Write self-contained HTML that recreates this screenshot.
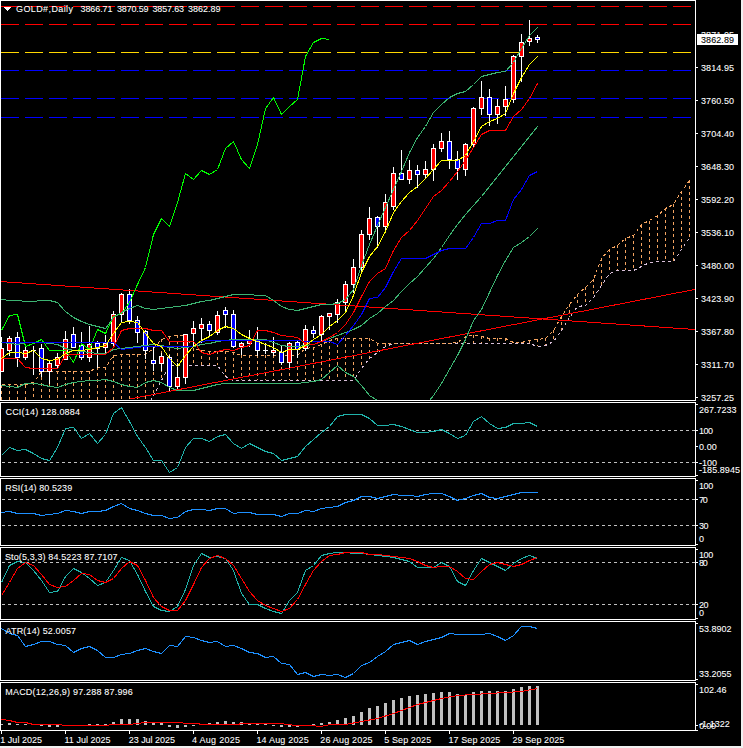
<!DOCTYPE html>
<html><head><meta charset="utf-8"><style>html,body{margin:0;padding:0;background:#000;width:743px;height:748px;overflow:hidden}</style></head><body><svg width="743" height="748" viewBox="0 0 743 748" shape-rendering="crispEdges" style='display:block;font-family:"Liberation Sans", sans-serif'>
<defs>
<clipPath id="p0"><rect x="1" y="1" width="694" height="399"/></clipPath>
<clipPath id="p1"><rect x="1" y="403" width="694" height="73"/></clipPath>
<clipPath id="p2"><rect x="1" y="479" width="694" height="66"/></clipPath>
<clipPath id="p3"><rect x="1" y="548" width="694" height="71"/></clipPath>
<clipPath id="p4"><rect x="1" y="622" width="694" height="58"/></clipPath>
<clipPath id="p5"><rect x="1" y="683" width="694" height="47"/></clipPath>
</defs>
<rect x="0" y="0" width="743" height="748" fill="#000"/>
<rect x="741" y="0" width="2" height="748" fill="#f0f0f0"/>
<rect x="0" y="746" width="743" height="2" fill="#f0f0f0"/>
<g clip-path="url(#p0)">
<line x1="1.5" y1="384.5" x2="1.5" y2="430" stroke="#F4A460" stroke-dasharray="3 3"/>
<line x1="9.5" y1="384.5" x2="9.5" y2="430" stroke="#F4A460" stroke-dasharray="3 3"/>
<line x1="17.5" y1="384.5" x2="17.5" y2="430" stroke="#F4A460" stroke-dasharray="3 3"/>
<line x1="25.5" y1="384.5" x2="25.5" y2="430" stroke="#F4A460" stroke-dasharray="3 3"/>
<line x1="33.5" y1="381.5" x2="33.5" y2="430" stroke="#F4A460" stroke-dasharray="3 3"/>
<line x1="41.5" y1="371.4" x2="41.5" y2="430" stroke="#F4A460" stroke-dasharray="3 3"/>
<line x1="49.5" y1="371.4" x2="49.5" y2="430" stroke="#F4A460" stroke-dasharray="3 3"/>
<line x1="57.5" y1="371.4" x2="57.5" y2="430" stroke="#F4A460" stroke-dasharray="3 3"/>
<line x1="65.5" y1="371.4" x2="65.5" y2="430" stroke="#F4A460" stroke-dasharray="3 3"/>
<line x1="73.5" y1="371.4" x2="73.5" y2="430" stroke="#F4A460" stroke-dasharray="3 3"/>
<line x1="81.5" y1="371.4" x2="81.5" y2="430" stroke="#F4A460" stroke-dasharray="3 3"/>
<line x1="89.5" y1="371.4" x2="89.5" y2="430" stroke="#F4A460" stroke-dasharray="3 3"/>
<line x1="97.5" y1="367" x2="97.5" y2="430" stroke="#F4A460" stroke-dasharray="3 3"/>
<line x1="105.5" y1="367" x2="105.5" y2="430" stroke="#F4A460" stroke-dasharray="3 3"/>
<line x1="113.5" y1="355" x2="113.5" y2="430" stroke="#F4A460" stroke-dasharray="3 3"/>
<line x1="121.5" y1="354" x2="121.5" y2="430" stroke="#F4A460" stroke-dasharray="3 3"/>
<line x1="129.5" y1="354" x2="129.5" y2="430" stroke="#F4A460" stroke-dasharray="3 3"/>
<line x1="137.5" y1="354" x2="137.5" y2="430" stroke="#F4A460" stroke-dasharray="3 3"/>
<line x1="145.5" y1="354" x2="145.5" y2="410" stroke="#F4A460" stroke-dasharray="3 3"/>
<line x1="153.5" y1="348" x2="153.5" y2="395" stroke="#F4A460" stroke-dasharray="3 3"/>
<line x1="161.5" y1="339" x2="161.5" y2="380" stroke="#F4A460" stroke-dasharray="3 3"/>
<line x1="169.5" y1="336" x2="169.5" y2="365" stroke="#F4A460" stroke-dasharray="3 3"/>
<line x1="177.5" y1="335" x2="177.5" y2="365" stroke="#F4A460" stroke-dasharray="3 3"/>
<line x1="185.5" y1="335" x2="185.5" y2="365" stroke="#F4A460" stroke-dasharray="3 3"/>
<line x1="193.5" y1="348" x2="193.5" y2="365" stroke="#F4A460" stroke-dasharray="3 3"/>
<line x1="201.5" y1="350" x2="201.5" y2="365" stroke="#F4A460" stroke-dasharray="3 3"/>
<line x1="209.5" y1="351" x2="209.5" y2="365" stroke="#F4A460" stroke-dasharray="3 3"/>
<line x1="217.5" y1="351" x2="217.5" y2="365" stroke="#F4A460" stroke-dasharray="3 3"/>
<line x1="225.5" y1="351" x2="225.5" y2="376" stroke="#F4A460" stroke-dasharray="3 3"/>
<line x1="233.5" y1="352" x2="233.5" y2="380" stroke="#F4A460" stroke-dasharray="3 3"/>
<line x1="241.5" y1="355" x2="241.5" y2="380" stroke="#F4A460" stroke-dasharray="3 3"/>
<line x1="249.5" y1="355" x2="249.5" y2="380" stroke="#F4A460" stroke-dasharray="3 3"/>
<line x1="257.5" y1="355" x2="257.5" y2="380" stroke="#F4A460" stroke-dasharray="3 3"/>
<line x1="265.5" y1="355" x2="265.5" y2="380" stroke="#F4A460" stroke-dasharray="3 3"/>
<line x1="273.5" y1="355" x2="273.5" y2="380" stroke="#F4A460" stroke-dasharray="3 3"/>
<line x1="281.5" y1="355" x2="281.5" y2="380" stroke="#F4A460" stroke-dasharray="3 3"/>
<line x1="289.5" y1="355" x2="289.5" y2="380" stroke="#F4A460" stroke-dasharray="3 3"/>
<line x1="297.5" y1="355" x2="297.5" y2="380" stroke="#F4A460" stroke-dasharray="3 3"/>
<line x1="305.5" y1="348" x2="305.5" y2="380" stroke="#F4A460" stroke-dasharray="3 3"/>
<line x1="313.5" y1="347" x2="313.5" y2="380" stroke="#F4A460" stroke-dasharray="3 3"/>
<line x1="321.5" y1="344" x2="321.5" y2="380" stroke="#F4A460" stroke-dasharray="3 3"/>
<line x1="329.5" y1="340" x2="329.5" y2="380" stroke="#F4A460" stroke-dasharray="3 3"/>
<line x1="337.5" y1="338" x2="337.5" y2="380" stroke="#F4A460" stroke-dasharray="3 3"/>
<line x1="345.5" y1="338" x2="345.5" y2="380" stroke="#F4A460" stroke-dasharray="3 3"/>
<line x1="353.5" y1="338" x2="353.5" y2="380" stroke="#F4A460" stroke-dasharray="3 3"/>
<line x1="361.5" y1="338" x2="361.5" y2="368" stroke="#F4A460" stroke-dasharray="3 3"/>
<line x1="369.5" y1="338" x2="369.5" y2="358" stroke="#F4A460" stroke-dasharray="3 3"/>
<line x1="377.5" y1="343" x2="377.5" y2="352" stroke="#F4A460" stroke-dasharray="3 3"/>
<line x1="385.5" y1="343" x2="385.5" y2="346" stroke="#F4A460" stroke-dasharray="3 3"/>
<line x1="393.5" y1="343" x2="393.5" y2="343" stroke="#F4A460" stroke-dasharray="3 3"/>
<line x1="401.5" y1="343" x2="401.5" y2="343" stroke="#F4A460" stroke-dasharray="3 3"/>
<line x1="409.5" y1="343" x2="409.5" y2="343" stroke="#F4A460" stroke-dasharray="3 3"/>
<line x1="417.5" y1="343" x2="417.5" y2="343" stroke="#F4A460" stroke-dasharray="3 3"/>
<line x1="425.5" y1="343" x2="425.5" y2="343" stroke="#F4A460" stroke-dasharray="3 3"/>
<line x1="433.5" y1="343" x2="433.5" y2="343" stroke="#F4A460" stroke-dasharray="3 3"/>
<line x1="441.5" y1="343" x2="441.5" y2="343" stroke="#F4A460" stroke-dasharray="3 3"/>
<line x1="449.5" y1="343" x2="449.5" y2="343" stroke="#F4A460" stroke-dasharray="3 3"/>
<line x1="457.5" y1="342" x2="457.5" y2="343" stroke="#F4A460" stroke-dasharray="3 3"/>
<line x1="465.5" y1="336" x2="465.5" y2="343" stroke="#F4A460" stroke-dasharray="3 3"/>
<line x1="473.5" y1="335" x2="473.5" y2="343" stroke="#F4A460" stroke-dasharray="3 3"/>
<line x1="481.5" y1="336" x2="481.5" y2="343" stroke="#F4A460" stroke-dasharray="3 3"/>
<line x1="489.5" y1="337.6" x2="489.5" y2="343" stroke="#F4A460" stroke-dasharray="3 3"/>
<line x1="497.5" y1="338" x2="497.5" y2="343" stroke="#F4A460" stroke-dasharray="3 3"/>
<line x1="505.5" y1="338" x2="505.5" y2="343" stroke="#F4A460" stroke-dasharray="3 3"/>
<line x1="513.5" y1="342" x2="513.5" y2="343" stroke="#F4A460" stroke-dasharray="3 3"/>
<line x1="521.5" y1="342.4" x2="521.5" y2="343" stroke="#F4A460" stroke-dasharray="3 3"/>
<line x1="529.5" y1="340" x2="529.5" y2="343" stroke="#F4A460" stroke-dasharray="3 3"/>
<line x1="537.5" y1="338.8" x2="537.5" y2="345.6" stroke="#F4A460" stroke-dasharray="3 3"/>
<line x1="545.5" y1="338" x2="545.5" y2="344.6" stroke="#F4A460" stroke-dasharray="3 3"/>
<line x1="553.5" y1="330" x2="553.5" y2="341.4" stroke="#F4A460" stroke-dasharray="3 3"/>
<line x1="561.5" y1="316" x2="561.5" y2="330" stroke="#F4A460" stroke-dasharray="3 3"/>
<line x1="569.5" y1="304" x2="569.5" y2="317" stroke="#F4A460" stroke-dasharray="3 3"/>
<line x1="577.5" y1="293.5" x2="577.5" y2="305.5" stroke="#F4A460" stroke-dasharray="3 3"/>
<line x1="585.5" y1="287" x2="585.5" y2="305" stroke="#F4A460" stroke-dasharray="3 3"/>
<line x1="593.5" y1="279" x2="593.5" y2="297" stroke="#F4A460" stroke-dasharray="3 3"/>
<line x1="601.5" y1="258" x2="601.5" y2="285" stroke="#F4A460" stroke-dasharray="3 3"/>
<line x1="609.5" y1="249" x2="609.5" y2="273" stroke="#F4A460" stroke-dasharray="3 3"/>
<line x1="617.5" y1="244.6" x2="617.5" y2="270.3" stroke="#F4A460" stroke-dasharray="3 3"/>
<line x1="625.5" y1="238.2" x2="625.5" y2="270.3" stroke="#F4A460" stroke-dasharray="3 3"/>
<line x1="633.5" y1="235" x2="633.5" y2="270.3" stroke="#F4A460" stroke-dasharray="3 3"/>
<line x1="641.5" y1="224.5" x2="641.5" y2="266.3" stroke="#F4A460" stroke-dasharray="3 3"/>
<line x1="649.5" y1="220.5" x2="649.5" y2="262.2" stroke="#F4A460" stroke-dasharray="3 3"/>
<line x1="657.5" y1="215" x2="657.5" y2="261.4" stroke="#F4A460" stroke-dasharray="3 3"/>
<line x1="665.5" y1="208" x2="665.5" y2="261.4" stroke="#F4A460" stroke-dasharray="3 3"/>
<line x1="673.5" y1="204" x2="673.5" y2="261.4" stroke="#F4A460" stroke-dasharray="3 3"/>
<line x1="681.5" y1="191" x2="681.5" y2="248.6" stroke="#F4A460" stroke-dasharray="3 3"/>
<line x1="689.5" y1="179.6" x2="689.5" y2="237.4" stroke="#F4A460" stroke-dasharray="3 3"/>
<polyline points="1.5,430.5 9.5,430.5 17.5,430.5 25.5,430.5 33.5,430.5 41.5,430.5 49.5,430.5 57.5,430.5 65.5,430.5 73.5,430.5 81.5,430.5 89.5,430.5 97.5,430.5 105.5,430.5 113.5,430.5 121.5,430.5 129.5,430.5 137.5,430.5 145.5,410.5 153.5,395.5 161.5,380.5 169.5,365.5 177.5,365.5 185.5,365.5 193.5,365.5 201.5,365.5 209.5,365.5 217.5,365.5 225.5,376.5 233.5,380.5 241.5,380.5 249.5,380.5 257.5,380.5 265.5,380.5 273.5,380.5 281.5,380.5 289.5,380.5 297.5,380.5 305.5,380.5 313.5,380.5 321.5,380.5 329.5,380.5 337.5,380.5 345.5,380.5 353.5,380.5 361.5,368.5 369.5,358.5 377.5,352.5 385.5,346.5 393.5,343.5 401.5,343.5 409.5,343.5 417.5,343.5 425.5,343.5 433.5,343.5 441.5,343.5 449.5,343.5 457.5,343.5 465.5,343.5 473.5,343.5 481.5,343.5 489.5,343.5 497.5,343.5 505.5,343.5 513.5,343.5 521.5,343.5 529.5,343.5 537.5,346.5 545.5,345.5 553.5,341.5 561.5,330.5 569.5,317.5 577.5,306.5 585.5,305.5 593.5,297.5 601.5,285.5 609.5,273.5 617.5,270.5 625.5,270.5 633.5,270.5 641.5,266.5 649.5,262.5 657.5,261.5 665.5,261.5 673.5,261.5 681.5,249.5 689.5,237.5" fill="none" stroke="#D8BFD8" stroke-width="1" stroke-dasharray="3 3"/>
<polyline points="1.5,384.5 9.5,384.5 17.5,384.5 25.5,384.5 33.5,382.5 41.5,371.5 49.5,371.5 57.5,371.5 65.5,371.5 73.5,371.5 81.5,371.5 89.5,371.5 97.5,367.5 105.5,367.5 113.5,355.5 121.5,354.5 129.5,354.5 137.5,354.5 145.5,354.5 153.5,348.5 161.5,339.5 169.5,336.5 177.5,335.5 185.5,335.5 193.5,348.5 201.5,350.5 209.5,351.5 217.5,351.5 225.5,351.5 233.5,352.5 241.5,355.5 249.5,355.5 257.5,355.5 265.5,355.5 273.5,355.5 281.5,355.5 289.5,355.5 297.5,355.5 305.5,348.5 313.5,347.5 321.5,344.5 329.5,340.5 337.5,338.5 345.5,338.5 353.5,338.5 361.5,338.5 369.5,338.5 377.5,343.5 385.5,343.5 393.5,343.5 401.5,343.5 409.5,343.5 417.5,343.5 425.5,343.5 433.5,343.5 441.5,343.5 449.5,343.5 457.5,342.5 465.5,336.5 473.5,335.5 481.5,336.5 489.5,338.5 497.5,338.5 505.5,338.5 513.5,342.5 521.5,342.5 529.5,340.5 537.5,339.5 545.5,338.5 553.5,330.5 561.5,316.5 569.5,304.5 577.5,294.5 585.5,287.5 593.5,279.5 601.5,258.5 609.5,249.5 617.5,245.5 625.5,238.5 633.5,235.5 641.5,224.5 649.5,220.5 657.5,215.5 665.5,208.5 673.5,204.5 681.5,191.5 689.5,180.5" fill="none" stroke="#F4A460" stroke-width="1" stroke-dasharray="3 3"/>
<line x1="1" y1="6.5" x2="695" y2="6.5" stroke="#f00" stroke-dasharray="18 6"/>
<line x1="1" y1="24.5" x2="695" y2="24.5" stroke="#f00" stroke-dasharray="18 6"/>
<line x1="1" y1="52.5" x2="695" y2="52.5" stroke="#FFD700" stroke-dasharray="18 6"/>
<line x1="1" y1="70.5" x2="695" y2="70.5" stroke="#00f" stroke-dasharray="18 6"/>
<line x1="1" y1="98.5" x2="695" y2="98.5" stroke="#00f" stroke-dasharray="18 6"/>
<line x1="1" y1="117.5" x2="695" y2="117.5" stroke="#00f" stroke-dasharray="18 6"/>
<rect x="1" y="337" width="1" height="35" fill="#fff"/>
<rect x="-1" y="348" width="5" height="24" fill="#fff"/>
<rect x="0" y="349" width="3" height="22" fill="#f00"/>
<rect x="9" y="336" width="1" height="20" fill="#fff"/>
<rect x="7" y="338" width="5" height="13" fill="#fff"/>
<rect x="8" y="339" width="3" height="11" fill="#f00"/>
<rect x="17" y="332" width="1" height="35" fill="#fff"/>
<rect x="15" y="337" width="5" height="21" fill="#fff"/>
<rect x="16" y="338" width="3" height="19" fill="#00f"/>
<rect x="25" y="347" width="1" height="13" fill="#fff"/>
<rect x="23" y="350" width="5" height="8" fill="#fff"/>
<rect x="24" y="351" width="3" height="6" fill="#f00"/>
<rect x="33" y="346" width="1" height="29" fill="#fff"/>
<rect x="31" y="350" width="5" height="1" fill="#fff"/>
<rect x="41" y="344" width="1" height="33" fill="#fff"/>
<rect x="39" y="348" width="5" height="24" fill="#fff"/>
<rect x="40" y="349" width="3" height="22" fill="#00f"/>
<rect x="49" y="361" width="1" height="23" fill="#fff"/>
<rect x="47" y="363" width="5" height="9" fill="#fff"/>
<rect x="48" y="364" width="3" height="7" fill="#f00"/>
<rect x="57" y="353" width="1" height="15" fill="#fff"/>
<rect x="55" y="357" width="5" height="9" fill="#fff"/>
<rect x="56" y="358" width="3" height="7" fill="#f00"/>
<rect x="65" y="331" width="1" height="29" fill="#fff"/>
<rect x="63" y="339" width="5" height="21" fill="#fff"/>
<rect x="64" y="340" width="3" height="19" fill="#f00"/>
<rect x="73" y="327" width="1" height="21" fill="#fff"/>
<rect x="71" y="334" width="5" height="14" fill="#fff"/>
<rect x="72" y="335" width="3" height="12" fill="#00f"/>
<rect x="81" y="332" width="1" height="28" fill="#fff"/>
<rect x="79" y="345" width="5" height="13" fill="#fff"/>
<rect x="80" y="346" width="3" height="11" fill="#00f"/>
<rect x="89" y="326" width="1" height="36" fill="#fff"/>
<rect x="87" y="344" width="5" height="14" fill="#fff"/>
<rect x="88" y="345" width="3" height="12" fill="#f00"/>
<rect x="97" y="341" width="1" height="27" fill="#fff"/>
<rect x="95" y="343" width="5" height="6" fill="#fff"/>
<rect x="96" y="344" width="3" height="4" fill="#00f"/>
<rect x="105" y="335" width="1" height="19" fill="#fff"/>
<rect x="103" y="343" width="5" height="5" fill="#fff"/>
<rect x="104" y="344" width="3" height="3" fill="#f00"/>
<rect x="113" y="311" width="1" height="36" fill="#fff"/>
<rect x="111" y="314" width="5" height="30" fill="#fff"/>
<rect x="112" y="315" width="3" height="28" fill="#f00"/>
<rect x="121" y="293" width="1" height="30" fill="#fff"/>
<rect x="119" y="294" width="5" height="21" fill="#fff"/>
<rect x="120" y="295" width="3" height="19" fill="#f00"/>
<rect x="129" y="289" width="1" height="35" fill="#fff"/>
<rect x="127" y="294" width="5" height="27" fill="#fff"/>
<rect x="128" y="295" width="3" height="25" fill="#00f"/>
<rect x="137" y="316" width="1" height="27" fill="#fff"/>
<rect x="135" y="320" width="5" height="13" fill="#fff"/>
<rect x="136" y="321" width="3" height="11" fill="#00f"/>
<rect x="145" y="330" width="1" height="29" fill="#fff"/>
<rect x="143" y="331" width="5" height="20" fill="#fff"/>
<rect x="144" y="332" width="3" height="18" fill="#00f"/>
<rect x="153" y="346" width="1" height="25" fill="#fff"/>
<rect x="151" y="360" width="5" height="4" fill="#fff"/>
<rect x="152" y="361" width="3" height="2" fill="#00f"/>
<rect x="161" y="353" width="1" height="18" fill="#fff"/>
<rect x="159" y="356" width="5" height="8" fill="#fff"/>
<rect x="160" y="357" width="3" height="6" fill="#f00"/>
<rect x="169" y="355" width="1" height="37" fill="#fff"/>
<rect x="167" y="357" width="5" height="30" fill="#fff"/>
<rect x="168" y="358" width="3" height="28" fill="#00f"/>
<rect x="177" y="363" width="1" height="26" fill="#fff"/>
<rect x="175" y="377" width="5" height="10" fill="#fff"/>
<rect x="176" y="378" width="3" height="8" fill="#f00"/>
<rect x="185" y="334" width="1" height="50" fill="#fff"/>
<rect x="183" y="334" width="5" height="44" fill="#fff"/>
<rect x="184" y="335" width="3" height="42" fill="#f00"/>
<rect x="193" y="321" width="1" height="26" fill="#fff"/>
<rect x="191" y="328" width="5" height="6" fill="#fff"/>
<rect x="192" y="329" width="3" height="4" fill="#f00"/>
<rect x="201" y="318" width="1" height="25" fill="#fff"/>
<rect x="199" y="324" width="5" height="5" fill="#fff"/>
<rect x="200" y="325" width="3" height="3" fill="#f00"/>
<rect x="209" y="321" width="1" height="15" fill="#fff"/>
<rect x="207" y="324" width="5" height="7" fill="#fff"/>
<rect x="208" y="325" width="3" height="5" fill="#00f"/>
<rect x="217" y="311" width="1" height="24" fill="#fff"/>
<rect x="215" y="315" width="5" height="18" fill="#fff"/>
<rect x="216" y="316" width="3" height="16" fill="#f00"/>
<rect x="225" y="307" width="1" height="21" fill="#fff"/>
<rect x="223" y="310" width="5" height="5" fill="#fff"/>
<rect x="224" y="311" width="3" height="3" fill="#00f"/>
<rect x="233" y="310" width="1" height="38" fill="#fff"/>
<rect x="231" y="314" width="5" height="33" fill="#fff"/>
<rect x="232" y="315" width="3" height="31" fill="#00f"/>
<rect x="241" y="342" width="1" height="13" fill="#fff"/>
<rect x="239" y="343" width="5" height="4" fill="#fff"/>
<rect x="240" y="344" width="3" height="2" fill="#f00"/>
<rect x="249" y="330" width="1" height="17" fill="#fff"/>
<rect x="247" y="339" width="5" height="5" fill="#fff"/>
<rect x="248" y="340" width="3" height="3" fill="#f00"/>
<rect x="257" y="327" width="1" height="29" fill="#fff"/>
<rect x="255" y="339" width="5" height="12" fill="#fff"/>
<rect x="256" y="340" width="3" height="10" fill="#00f"/>
<rect x="265" y="343" width="1" height="11" fill="#fff"/>
<rect x="263" y="350" width="5" height="1" fill="#fff"/>
<rect x="273" y="337" width="1" height="19" fill="#fff"/>
<rect x="271" y="350" width="5" height="3" fill="#fff"/>
<rect x="272" y="351" width="3" height="1" fill="#f00"/>
<rect x="281" y="345" width="1" height="20" fill="#fff"/>
<rect x="279" y="352" width="5" height="11" fill="#fff"/>
<rect x="280" y="353" width="3" height="9" fill="#00f"/>
<rect x="289" y="342" width="1" height="26" fill="#fff"/>
<rect x="287" y="343" width="5" height="20" fill="#fff"/>
<rect x="288" y="344" width="3" height="18" fill="#f00"/>
<rect x="297" y="341" width="1" height="17" fill="#fff"/>
<rect x="295" y="342" width="5" height="8" fill="#fff"/>
<rect x="296" y="343" width="3" height="6" fill="#00f"/>
<rect x="305" y="325" width="1" height="26" fill="#fff"/>
<rect x="303" y="329" width="5" height="20" fill="#fff"/>
<rect x="304" y="330" width="3" height="18" fill="#f00"/>
<rect x="313" y="326" width="1" height="12" fill="#fff"/>
<rect x="311" y="330" width="5" height="4" fill="#fff"/>
<rect x="312" y="331" width="3" height="2" fill="#00f"/>
<rect x="321" y="315" width="1" height="26" fill="#fff"/>
<rect x="319" y="316" width="5" height="19" fill="#fff"/>
<rect x="320" y="317" width="3" height="17" fill="#f00"/>
<rect x="329" y="313" width="1" height="17" fill="#fff"/>
<rect x="327" y="313" width="5" height="4" fill="#fff"/>
<rect x="328" y="314" width="3" height="2" fill="#f00"/>
<rect x="337" y="299" width="1" height="24" fill="#fff"/>
<rect x="335" y="302" width="5" height="13" fill="#fff"/>
<rect x="336" y="303" width="3" height="11" fill="#f00"/>
<rect x="345" y="281" width="1" height="31" fill="#fff"/>
<rect x="343" y="284" width="5" height="19" fill="#fff"/>
<rect x="344" y="285" width="3" height="17" fill="#f00"/>
<rect x="353" y="259" width="1" height="34" fill="#fff"/>
<rect x="351" y="267" width="5" height="18" fill="#fff"/>
<rect x="352" y="268" width="3" height="16" fill="#f00"/>
<rect x="361" y="230" width="1" height="41" fill="#fff"/>
<rect x="359" y="234" width="5" height="34" fill="#fff"/>
<rect x="360" y="235" width="3" height="32" fill="#f00"/>
<rect x="369" y="207" width="1" height="33" fill="#fff"/>
<rect x="367" y="218" width="5" height="17" fill="#fff"/>
<rect x="368" y="219" width="3" height="15" fill="#f00"/>
<rect x="377" y="216" width="1" height="32" fill="#fff"/>
<rect x="375" y="217" width="5" height="10" fill="#fff"/>
<rect x="376" y="218" width="3" height="8" fill="#00f"/>
<rect x="385" y="194" width="1" height="36" fill="#fff"/>
<rect x="383" y="202" width="5" height="25" fill="#fff"/>
<rect x="384" y="203" width="3" height="23" fill="#f00"/>
<rect x="393" y="167" width="1" height="43" fill="#fff"/>
<rect x="391" y="173" width="5" height="34" fill="#fff"/>
<rect x="392" y="174" width="3" height="32" fill="#f00"/>
<rect x="401" y="150" width="1" height="30" fill="#fff"/>
<rect x="399" y="173" width="5" height="7" fill="#fff"/>
<rect x="400" y="174" width="3" height="5" fill="#00f"/>
<rect x="409" y="160" width="1" height="24" fill="#fff"/>
<rect x="407" y="170" width="5" height="10" fill="#fff"/>
<rect x="408" y="171" width="3" height="8" fill="#f00"/>
<rect x="417" y="165" width="1" height="23" fill="#fff"/>
<rect x="415" y="170" width="5" height="5" fill="#fff"/>
<rect x="416" y="171" width="3" height="3" fill="#00f"/>
<rect x="425" y="161" width="1" height="17" fill="#fff"/>
<rect x="423" y="169" width="5" height="6" fill="#fff"/>
<rect x="424" y="170" width="3" height="4" fill="#f00"/>
<rect x="433" y="144" width="1" height="37" fill="#fff"/>
<rect x="431" y="148" width="5" height="22" fill="#fff"/>
<rect x="432" y="149" width="3" height="20" fill="#f00"/>
<rect x="441" y="133" width="1" height="19" fill="#fff"/>
<rect x="439" y="141" width="5" height="8" fill="#fff"/>
<rect x="440" y="142" width="3" height="6" fill="#f00"/>
<rect x="449" y="131" width="1" height="38" fill="#fff"/>
<rect x="447" y="141" width="5" height="19" fill="#fff"/>
<rect x="448" y="142" width="3" height="17" fill="#00f"/>
<rect x="457" y="151" width="1" height="29" fill="#fff"/>
<rect x="455" y="159" width="5" height="10" fill="#fff"/>
<rect x="456" y="160" width="3" height="8" fill="#00f"/>
<rect x="465" y="143" width="1" height="33" fill="#fff"/>
<rect x="463" y="144" width="5" height="26" fill="#fff"/>
<rect x="464" y="145" width="3" height="24" fill="#f00"/>
<rect x="473" y="107" width="1" height="40" fill="#fff"/>
<rect x="471" y="108" width="5" height="37" fill="#fff"/>
<rect x="472" y="109" width="3" height="35" fill="#f00"/>
<rect x="481" y="81" width="1" height="34" fill="#fff"/>
<rect x="479" y="97" width="5" height="12" fill="#fff"/>
<rect x="480" y="98" width="3" height="10" fill="#f00"/>
<rect x="489" y="89" width="1" height="37" fill="#fff"/>
<rect x="487" y="97" width="5" height="18" fill="#fff"/>
<rect x="488" y="98" width="3" height="16" fill="#00f"/>
<rect x="497" y="99" width="1" height="25" fill="#fff"/>
<rect x="495" y="106" width="5" height="9" fill="#fff"/>
<rect x="496" y="107" width="3" height="7" fill="#f00"/>
<rect x="505" y="86" width="1" height="30" fill="#fff"/>
<rect x="503" y="99" width="5" height="8" fill="#fff"/>
<rect x="504" y="100" width="3" height="6" fill="#f00"/>
<rect x="513" y="55" width="1" height="48" fill="#fff"/>
<rect x="511" y="56" width="5" height="44" fill="#fff"/>
<rect x="512" y="57" width="3" height="42" fill="#f00"/>
<rect x="521" y="34" width="1" height="48" fill="#fff"/>
<rect x="519" y="42" width="5" height="15" fill="#fff"/>
<rect x="520" y="43" width="3" height="13" fill="#f00"/>
<rect x="529" y="20" width="1" height="26" fill="#fff"/>
<rect x="527" y="38" width="5" height="4" fill="#fff"/>
<rect x="528" y="39" width="3" height="2" fill="#f00"/>
<rect x="537" y="35" width="1" height="8" fill="#fff"/>
<rect x="535" y="37" width="5" height="3" fill="#fff"/>
<rect x="536" y="38" width="3" height="1" fill="#00f"/>
<line x1="0" y1="281.5" x2="695" y2="329.5" stroke="#f00"/>
<line x1="130" y1="399" x2="695" y2="289.4" stroke="#f00"/>
<polyline points="1.5,330.5 9.5,315.5 17.5,314.5 25.5,346.5 33.5,343.5 41.5,339.5 49.5,350.5 57.5,350.5 65.5,350.5 73.5,362.5 81.5,343.5 89.5,349.5 97.5,329.5 105.5,333.5 113.5,316.5 121.5,313.5 129.5,302.5 137.5,284.5 145.5,267.5 153.5,234.5 161.5,218.5 169.5,226.5 177.5,202.5 185.5,173.5 193.5,179.5 201.5,170.5 209.5,174.5 217.5,169.5 225.5,148.5 233.5,141.5 241.5,159.5 249.5,168.5 257.5,144.5 265.5,108.5 273.5,97.5 281.5,114.5 289.5,106.5 297.5,99.5 305.5,56.5 313.5,42.5 321.5,38.5 329.5,39.5" fill="none" stroke="#0f0" stroke-width="1"/>
<polyline points="1.5,299.5 9.5,300.5 17.5,300.5 25.5,301.5 33.5,301.5 41.5,300.5 49.5,300.5 57.5,302.5 65.5,311.5 73.5,317.5 81.5,321.5 89.5,324.5 97.5,326.5 105.5,328.5 113.5,317.5 121.5,312.5 129.5,308.5 137.5,305.5 145.5,308.5 153.5,309.5 161.5,308.5 169.5,307.5 177.5,306.5 185.5,305.5 193.5,303.5 201.5,301.5 209.5,300.5 217.5,298.5 225.5,296.5 233.5,294.5 241.5,294.5 249.5,294.5 257.5,295.5 265.5,295.5 273.5,300.5 281.5,306.5 289.5,309.5 297.5,310.5 305.5,308.5 313.5,306.5 321.5,304.5 329.5,304.5 337.5,303.5 345.5,299.5 353.5,289.5 361.5,265.5 369.5,244.5 377.5,225.5 385.5,207.5 393.5,189.5 401.5,171.5 409.5,152.5 417.5,137.5 425.5,126.5 433.5,112.5 441.5,104.5 449.5,97.5 457.5,93.5 465.5,91.5 473.5,84.5 481.5,76.5 489.5,74.5 497.5,72.5 505.5,71.5 513.5,62.5 521.5,48.5 529.5,35.5 537.5,27.5" fill="none" stroke="#3CB371" stroke-width="1"/>
<polyline points="1.5,385.5 9.5,386.5 17.5,387.5 25.5,383.5 33.5,383.5 41.5,384.5 49.5,386.5 57.5,387.5 65.5,384.5 73.5,382.5 81.5,381.5 89.5,380.5 97.5,380.5 105.5,379.5 113.5,381.5 121.5,384.5 129.5,386.5 137.5,387.5 145.5,382.5 153.5,380.5 161.5,382.5 169.5,387.5 177.5,390.5 185.5,390.5 193.5,390.5 201.5,388.5 209.5,386.5 217.5,384.5 225.5,383.5 233.5,383.5 241.5,383.5 249.5,383.5 257.5,383.5 265.5,383.5 273.5,383.5 281.5,383.5 289.5,383.5 297.5,383.5 305.5,382.5 313.5,381.5 321.5,379.5 329.5,372.5 337.5,365.5 345.5,372.5 353.5,376.5 361.5,385.5 369.5,395.5 377.5,400.5 385.5,413.5 393.5,418.5 401.5,418.5 409.5,421.5 417.5,416.5 425.5,405.5 433.5,395.5 441.5,383.5 449.5,369.5 457.5,355.5 465.5,339.5 473.5,320.5 481.5,309.5 489.5,292.5 497.5,275.5 505.5,260.5 513.5,247.5 521.5,242.5 529.5,236.5 537.5,228.5" fill="none" stroke="#3CB371" stroke-width="1"/>
<polyline points="1.5,342.5 9.5,343.5 17.5,344.5 25.5,342.5 33.5,342.5 41.5,342.5 49.5,343.5 57.5,344.5 65.5,348.5 73.5,350.5 81.5,351.5 89.5,352.5 97.5,353.5 105.5,353.5 113.5,349.5 121.5,348.5 129.5,347.5 137.5,346.5 145.5,345.5 153.5,344.5 161.5,345.5 169.5,347.5 177.5,348.5 185.5,347.5 193.5,346.5 201.5,344.5 209.5,343.5 217.5,341.5 225.5,340.5 233.5,339.5 241.5,339.5 249.5,339.5 257.5,339.5 265.5,339.5 273.5,342.5 281.5,345.5 289.5,346.5 297.5,346.5 305.5,345.5 313.5,344.5 321.5,341.5 329.5,338.5 337.5,335.5 345.5,332.5 353.5,329.5 361.5,325.5 369.5,318.5 377.5,313.5 385.5,306.5 393.5,300.5 401.5,291.5 409.5,283.5 417.5,276.5 425.5,267.5 433.5,258.5 441.5,247.5 449.5,235.5 457.5,224.5 465.5,214.5 473.5,205.5 481.5,196.5 489.5,186.5 497.5,176.5 505.5,166.5 513.5,156.5 521.5,146.5 529.5,136.5 537.5,126.5" fill="none" stroke="#3CB371" stroke-width="1"/>
<polyline points="1.5,342.5 9.5,342.5 17.5,342.5 25.5,342.5 33.5,342.5 41.5,342.5 49.5,342.5 57.5,342.5 65.5,342.5 73.5,342.5 81.5,342.5 89.5,342.5 97.5,342.5 105.5,342.5 113.5,342.5 121.5,349.5 129.5,348.5 137.5,347.5 145.5,346.5 153.5,346.5 161.5,346.5 169.5,346.5 177.5,346.5 185.5,346.5 193.5,346.5 201.5,341.5 209.5,340.5 217.5,340.5 225.5,340.5 233.5,340.5 241.5,340.5 249.5,340.5 257.5,340.5 265.5,340.5 273.5,340.5 281.5,340.5 289.5,340.5 297.5,340.5 305.5,341.5 313.5,341.5 321.5,341.5 329.5,341.5 337.5,344.5 345.5,335.5 353.5,325.5 361.5,314.5 369.5,298.5 377.5,297.5 385.5,287.5 393.5,271.5 401.5,258.5 409.5,258.5 417.5,258.5 425.5,258.5 433.5,254.5 441.5,250.5 449.5,248.5 457.5,248.5 465.5,248.5 473.5,237.5 481.5,223.5 489.5,223.5 497.5,220.5 505.5,220.5 513.5,199.5 521.5,189.5 529.5,175.5 537.5,171.5" fill="none" stroke="#00f" stroke-width="1"/>
<polyline points="1.5,358.5 9.5,358.5 17.5,358.5 25.5,367.5 33.5,368.5 41.5,368.5 49.5,368.5 57.5,368.5 65.5,355.5 73.5,354.5 81.5,354.5 89.5,354.5 97.5,354.5 105.5,354.5 113.5,347.5 121.5,330.5 129.5,328.5 137.5,328.5 145.5,328.5 153.5,330.5 161.5,330.5 169.5,341.5 177.5,341.5 185.5,341.5 193.5,341.5 201.5,352.5 209.5,354.5 217.5,351.5 225.5,349.5 233.5,350.5 241.5,347.5 249.5,345.5 257.5,330.5 265.5,330.5 273.5,332.5 281.5,335.5 289.5,336.5 297.5,337.5 305.5,343.5 313.5,344.5 321.5,341.5 329.5,337.5 337.5,332.5 345.5,324.5 353.5,312.5 361.5,296.5 369.5,281.5 377.5,273.5 385.5,268.5 393.5,250.5 401.5,237.5 409.5,230.5 417.5,220.5 425.5,208.5 433.5,196.5 441.5,190.5 449.5,181.5 457.5,171.5 465.5,160.5 473.5,147.5 481.5,134.5 489.5,130.5 497.5,130.5 505.5,130.5 513.5,116.5 521.5,109.5 529.5,98.5 537.5,83.5" fill="none" stroke="#f00" stroke-width="1"/>
<polyline points="1.5,358.5 9.5,352.5 17.5,352.5 25.5,353.5 33.5,350.5 41.5,358.5 49.5,360.5 57.5,359.5 65.5,353.5 73.5,350.5 81.5,350.5 89.5,349.5 97.5,347.5 105.5,345.5 113.5,333.5 121.5,322.5 129.5,321.5 137.5,322.5 145.5,333.5 153.5,343.5 161.5,346.5 169.5,358.5 177.5,366.5 185.5,355.5 193.5,346.5 201.5,340.5 209.5,336.5 217.5,330.5 225.5,326.5 233.5,328.5 241.5,334.5 249.5,338.5 257.5,341.5 265.5,344.5 273.5,347.5 281.5,352.5 289.5,349.5 297.5,349.5 305.5,345.5 313.5,339.5 321.5,334.5 329.5,326.5 337.5,320.5 345.5,312.5 353.5,295.5 361.5,272.5 369.5,256.5 377.5,246.5 385.5,231.5 393.5,212.5 401.5,201.5 409.5,192.5 417.5,186.5 425.5,178.5 433.5,169.5 441.5,160.5 449.5,160.5 457.5,160.5 465.5,155.5 473.5,141.5 481.5,126.5 489.5,121.5 497.5,118.5 505.5,113.5 513.5,93.5 521.5,77.5 529.5,64.5 537.5,56.5" fill="none" stroke="#ff0" stroke-width="1"/>
</g>
<line x1="2" y1="430.5" x2="695" y2="430.5" stroke="#c0c0c0" stroke-dasharray="3 3" clip-path="url(#p1)"/>
<line x1="2" y1="462.5" x2="695" y2="462.5" stroke="#c0c0c0" stroke-dasharray="3 3" clip-path="url(#p1)"/>
<polyline points="1.5,455.5 9.5,447.5 17.5,450.5 25.5,449.5 33.5,453.5 41.5,458.5 49.5,460.5 57.5,447.5 65.5,428.5 73.5,427.5 81.5,438.5 89.5,433.5 97.5,443.5 105.5,434.5 113.5,413.5 121.5,407.5 129.5,421.5 137.5,436.5 145.5,447.5 153.5,460.5 161.5,460.5 169.5,472.5 177.5,467.5 185.5,447.5 193.5,438.5 201.5,438.5 209.5,441.5 217.5,436.5 225.5,434.5 233.5,443.5 241.5,448.5 249.5,443.5 257.5,447.5 265.5,451.5 273.5,453.5 281.5,460.5 289.5,458.5 297.5,456.5 305.5,446.5 313.5,439.5 321.5,432.5 329.5,426.5 337.5,416.5 345.5,414.5 353.5,414.5 361.5,414.5 369.5,418.5 377.5,425.5 385.5,425.5 393.5,424.5 401.5,426.5 409.5,429.5 417.5,432.5 425.5,432.5 433.5,431.5 441.5,429.5 449.5,433.5 457.5,438.5 465.5,435.5 473.5,421.5 481.5,416.5 489.5,423.5 497.5,428.5 505.5,427.5 513.5,423.5 521.5,423.5 529.5,422.5 537.5,426.5" fill="none" stroke="#20B2AA" stroke-width="1" clip-path="url(#p1)"/>
<line x1="2" y1="499.5" x2="695" y2="499.5" stroke="#c0c0c0" stroke-dasharray="3 3" clip-path="url(#p2)"/>
<line x1="2" y1="525.5" x2="695" y2="525.5" stroke="#c0c0c0" stroke-dasharray="3 3" clip-path="url(#p2)"/>
<polyline points="1.5,512.5 9.5,511.5 17.5,513.5 25.5,513.5 33.5,513.5 41.5,515.5 49.5,514.5 57.5,513.5 65.5,510.5 73.5,511.5 81.5,513.5 89.5,511.5 97.5,511.5 105.5,510.5 113.5,506.5 121.5,503.5 129.5,508.5 137.5,510.5 145.5,513.5 153.5,515.5 161.5,515.5 169.5,518.5 177.5,517.5 185.5,511.5 193.5,509.5 201.5,509.5 209.5,510.5 217.5,508.5 225.5,508.5 233.5,513.5 241.5,512.5 249.5,512.5 257.5,514.5 265.5,514.5 273.5,514.5 281.5,516.5 289.5,513.5 297.5,513.5 305.5,510.5 313.5,511.5 321.5,508.5 329.5,507.5 337.5,506.5 345.5,502.5 353.5,500.5 361.5,496.5 369.5,496.5 377.5,498.5 385.5,496.5 393.5,494.5 401.5,495.5 409.5,495.5 417.5,496.5 425.5,494.5 433.5,493.5 441.5,493.5 449.5,496.5 457.5,500.5 465.5,498.5 473.5,495.5 481.5,493.5 489.5,497.5 497.5,498.5 505.5,496.5 513.5,494.5 521.5,492.5 529.5,492.5 537.5,492.5" fill="none" stroke="#1E90FF" stroke-width="1" clip-path="url(#p2)"/>
<line x1="2" y1="562.5" x2="695" y2="562.5" stroke="#c0c0c0" stroke-dasharray="3 3" clip-path="url(#p3)"/>
<line x1="2" y1="604.5" x2="695" y2="604.5" stroke="#c0c0c0" stroke-dasharray="3 3" clip-path="url(#p3)"/>
<polyline points="1.5,582.5 9.5,565.5 17.5,561.5 25.5,562.5 33.5,570.5 41.5,580.5 49.5,592.5 57.5,591.5 65.5,576.5 73.5,568.5 81.5,572.5 89.5,578.5 97.5,585.5 105.5,582.5 113.5,570.5 121.5,557.5 129.5,560.5 137.5,574.5 145.5,591.5 153.5,606.5 161.5,610.5 169.5,611.5 177.5,606.5 185.5,589.5 193.5,565.5 201.5,553.5 209.5,557.5 217.5,556.5 225.5,558.5 233.5,570.5 241.5,593.5 249.5,604.5 257.5,604.5 265.5,608.5 273.5,611.5 281.5,613.5 289.5,600.5 297.5,592.5 305.5,570.5 313.5,565.5 321.5,555.5 329.5,553.5 337.5,552.5 345.5,552.5 353.5,553.5 361.5,553.5 369.5,554.5 377.5,555.5 385.5,556.5 393.5,557.5 401.5,559.5 409.5,561.5 417.5,567.5 425.5,567.5 433.5,567.5 441.5,562.5 449.5,566.5 457.5,581.5 465.5,585.5 473.5,570.5 481.5,558.5 489.5,562.5 497.5,566.5 505.5,570.5 513.5,563.5 521.5,558.5 529.5,555.5 537.5,558.5" fill="none" stroke="#20B2AA" stroke-width="1" clip-path="url(#p3)"/>
<polyline points="1.5,595.5 9.5,582.5 17.5,568.5 25.5,562.5 33.5,565.5 41.5,574.5 49.5,584.5 57.5,587.5 65.5,586.5 73.5,580.5 81.5,573.5 89.5,574.5 97.5,580.5 105.5,582.5 113.5,578.5 121.5,568.5 129.5,561.5 137.5,565.5 145.5,580.5 153.5,597.5 161.5,606.5 169.5,610.5 177.5,610.5 185.5,600.5 193.5,584.5 201.5,567.5 209.5,558.5 217.5,555.5 225.5,558.5 233.5,565.5 241.5,578.5 249.5,591.5 257.5,600.5 265.5,605.5 273.5,608.5 281.5,611.5 289.5,608.5 297.5,599.5 305.5,584.5 313.5,570.5 321.5,561.5 329.5,555.5 337.5,554.5 345.5,552.5 353.5,552.5 361.5,552.5 369.5,554.5 377.5,554.5 385.5,555.5 393.5,556.5 401.5,557.5 409.5,558.5 417.5,561.5 425.5,565.5 433.5,567.5 441.5,566.5 449.5,566.5 457.5,571.5 465.5,578.5 473.5,579.5 481.5,571.5 489.5,564.5 497.5,562.5 505.5,564.5 513.5,566.5 521.5,564.5 529.5,560.5 537.5,557.5" fill="none" stroke="#f00" stroke-width="1" clip-path="url(#p3)"/>
<polyline points="1.5,628.5 9.5,633.5 17.5,635.5 25.5,646.5 33.5,644.5 41.5,641.5 49.5,641.5 57.5,644.5 65.5,645.5 73.5,652.5 81.5,648.5 89.5,646.5 97.5,650.5 105.5,657.5 113.5,657.5 121.5,654.5 129.5,653.5 137.5,650.5 145.5,648.5 153.5,651.5 161.5,653.5 169.5,645.5 177.5,646.5 185.5,636.5 193.5,637.5 201.5,640.5 209.5,642.5 217.5,641.5 225.5,646.5 233.5,645.5 241.5,648.5 249.5,652.5 257.5,653.5 265.5,657.5 273.5,656.5 281.5,663.5 289.5,664.5 297.5,674.5 305.5,672.5 313.5,676.5 321.5,674.5 329.5,675.5 337.5,674.5 345.5,677.5 353.5,673.5 361.5,665.5 369.5,662.5 377.5,656.5 385.5,651.5 393.5,644.5 401.5,642.5 409.5,640.5 417.5,644.5 425.5,641.5 433.5,639.5 441.5,637.5 449.5,633.5 457.5,634.5 465.5,634.5 473.5,634.5 481.5,634.5 489.5,633.5 497.5,636.5 505.5,640.5 513.5,635.5 521.5,626.5 529.5,626.5 537.5,628.5" fill="none" stroke="#1E90FF" stroke-width="1" clip-path="url(#p4)"/>
<g clip-path="url(#p5)">
<rect x="0" y="724" width="3" height="1" fill="#c0c0c0"/>
<rect x="8" y="723" width="3" height="2" fill="#c0c0c0"/>
<rect x="16" y="724" width="3" height="1" fill="#c0c0c0"/>
<rect x="24" y="724" width="3" height="1" fill="#c0c0c0"/>
<rect x="32" y="724" width="3" height="1" fill="#c0c0c0"/>
<rect x="40" y="725" width="3" height="1" fill="#c0c0c0"/>
<rect x="48" y="725" width="3" height="2" fill="#c0c0c0"/>
<rect x="56" y="725" width="3" height="2" fill="#c0c0c0"/>
<rect x="64" y="725" width="3" height="1" fill="#c0c0c0"/>
<rect x="72" y="725" width="3" height="1" fill="#c0c0c0"/>
<rect x="80" y="725" width="3" height="1" fill="#c0c0c0"/>
<rect x="88" y="724" width="3" height="1" fill="#c0c0c0"/>
<rect x="96" y="724" width="3" height="1" fill="#c0c0c0"/>
<rect x="104" y="724" width="3" height="1" fill="#c0c0c0"/>
<rect x="112" y="722" width="3" height="3" fill="#c0c0c0"/>
<rect x="120" y="719" width="3" height="6" fill="#c0c0c0"/>
<rect x="128" y="719" width="3" height="6" fill="#c0c0c0"/>
<rect x="136" y="719" width="3" height="6" fill="#c0c0c0"/>
<rect x="144" y="721" width="3" height="4" fill="#c0c0c0"/>
<rect x="152" y="723" width="3" height="2" fill="#c0c0c0"/>
<rect x="160" y="723" width="3" height="2" fill="#c0c0c0"/>
<rect x="168" y="725" width="3" height="2" fill="#c0c0c0"/>
<rect x="176" y="725" width="3" height="3" fill="#c0c0c0"/>
<rect x="184" y="725" width="3" height="2" fill="#c0c0c0"/>
<rect x="192" y="725" width="3" height="1" fill="#c0c0c0"/>
<rect x="200" y="724" width="3" height="1" fill="#c0c0c0"/>
<rect x="208" y="723" width="3" height="2" fill="#c0c0c0"/>
<rect x="216" y="722" width="3" height="3" fill="#c0c0c0"/>
<rect x="224" y="721" width="3" height="4" fill="#c0c0c0"/>
<rect x="232" y="722" width="3" height="3" fill="#c0c0c0"/>
<rect x="240" y="722" width="3" height="3" fill="#c0c0c0"/>
<rect x="248" y="724" width="3" height="1" fill="#c0c0c0"/>
<rect x="256" y="724" width="3" height="1" fill="#c0c0c0"/>
<rect x="264" y="724" width="3" height="1" fill="#c0c0c0"/>
<rect x="272" y="725" width="3" height="1" fill="#c0c0c0"/>
<rect x="280" y="725" width="3" height="2" fill="#c0c0c0"/>
<rect x="288" y="725" width="3" height="2" fill="#c0c0c0"/>
<rect x="296" y="725" width="3" height="2" fill="#c0c0c0"/>
<rect x="304" y="725" width="3" height="1" fill="#c0c0c0"/>
<rect x="312" y="724" width="3" height="1" fill="#c0c0c0"/>
<rect x="320" y="723" width="3" height="2" fill="#c0c0c0"/>
<rect x="328" y="722" width="3" height="3" fill="#c0c0c0"/>
<rect x="336" y="720" width="3" height="5" fill="#c0c0c0"/>
<rect x="344" y="718" width="3" height="7" fill="#c0c0c0"/>
<rect x="352" y="716" width="3" height="9" fill="#c0c0c0"/>
<rect x="360" y="712" width="3" height="13" fill="#c0c0c0"/>
<rect x="368" y="708" width="3" height="17" fill="#c0c0c0"/>
<rect x="376" y="706" width="3" height="19" fill="#c0c0c0"/>
<rect x="384" y="703" width="3" height="22" fill="#c0c0c0"/>
<rect x="392" y="700" width="3" height="25" fill="#c0c0c0"/>
<rect x="400" y="698" width="3" height="27" fill="#c0c0c0"/>
<rect x="408" y="696" width="3" height="29" fill="#c0c0c0"/>
<rect x="416" y="695" width="3" height="30" fill="#c0c0c0"/>
<rect x="424" y="694" width="3" height="31" fill="#c0c0c0"/>
<rect x="432" y="693" width="3" height="32" fill="#c0c0c0"/>
<rect x="440" y="692" width="3" height="33" fill="#c0c0c0"/>
<rect x="448" y="692" width="3" height="33" fill="#c0c0c0"/>
<rect x="456" y="694" width="3" height="31" fill="#c0c0c0"/>
<rect x="464" y="695" width="3" height="30" fill="#c0c0c0"/>
<rect x="472" y="692" width="3" height="33" fill="#c0c0c0"/>
<rect x="480" y="691" width="3" height="34" fill="#c0c0c0"/>
<rect x="488" y="691" width="3" height="34" fill="#c0c0c0"/>
<rect x="496" y="691" width="3" height="34" fill="#c0c0c0"/>
<rect x="504" y="691" width="3" height="34" fill="#c0c0c0"/>
<rect x="512" y="689" width="3" height="36" fill="#c0c0c0"/>
<rect x="520" y="687" width="3" height="38" fill="#c0c0c0"/>
<rect x="528" y="686" width="3" height="39" fill="#c0c0c0"/>
<rect x="536" y="686" width="3" height="39" fill="#c0c0c0"/>
<polyline points="1.5,719.5 9.5,720.5 17.5,722.5 25.5,722.5 33.5,724.5 41.5,724.5 57.5,724.5 65.5,725.5 105.5,725.5 113.5,724.5 129.5,724.5 137.5,723.5 145.5,722.5 180.5,722.5 185.5,723.5 197.5,723.5 201.5,724.5 237.5,724.5 241.5,723.5 280.5,723.5 295.5,725.5 310.5,725.5 320.5,726.5 330.5,724.5 345.5,724.5 361.5,721.5 377.5,718.5 393.5,713.5 409.5,707.5 417.5,704.5 425.5,702.5 433.5,700.5 441.5,698.5 457.5,695.5 473.5,694.5 489.5,693.5 505.5,692.5 521.5,691.5 537.5,688.5" fill="none" stroke="#f00" stroke-width="1"/>
</g>
<rect x="0.5" y="0.5" width="695" height="400" fill="none" stroke="#fff"/>
<rect x="0.5" y="402.5" width="695" height="74" fill="none" stroke="#fff"/>
<rect x="0.5" y="478.5" width="695" height="67" fill="none" stroke="#fff"/>
<rect x="0.5" y="547.5" width="695" height="72" fill="none" stroke="#fff"/>
<rect x="0.5" y="621.5" width="695" height="59" fill="none" stroke="#fff"/>
<rect x="0.5" y="682.5" width="695" height="48" fill="none" stroke="#fff"/>
<rect x="696" y="67" width="2" height="1" fill="#fff"/>
<text transform="translate(701,71) scale(1,1.1)" x="0" y="0" fill="#fff" stroke="#fff" stroke-width="0.08" font-size="9" textLength="33" lengthAdjust="spacing">3814.95</text>
<rect x="696" y="100" width="2" height="1" fill="#fff"/>
<text transform="translate(701,104) scale(1,1.1)" x="0" y="0" fill="#fff" stroke="#fff" stroke-width="0.08" font-size="9" textLength="33" lengthAdjust="spacing">3760.50</text>
<rect x="696" y="133" width="2" height="1" fill="#fff"/>
<text transform="translate(701,137) scale(1,1.1)" x="0" y="0" fill="#fff" stroke="#fff" stroke-width="0.08" font-size="9" textLength="33" lengthAdjust="spacing">3704.40</text>
<rect x="696" y="166" width="2" height="1" fill="#fff"/>
<text transform="translate(701,170) scale(1,1.1)" x="0" y="0" fill="#fff" stroke="#fff" stroke-width="0.08" font-size="9" textLength="33" lengthAdjust="spacing">3648.30</text>
<rect x="696" y="199" width="2" height="1" fill="#fff"/>
<text transform="translate(701,203) scale(1,1.1)" x="0" y="0" fill="#fff" stroke="#fff" stroke-width="0.08" font-size="9" textLength="33" lengthAdjust="spacing">3592.20</text>
<rect x="696" y="232" width="2" height="1" fill="#fff"/>
<text transform="translate(701,236) scale(1,1.1)" x="0" y="0" fill="#fff" stroke="#fff" stroke-width="0.08" font-size="9" textLength="33" lengthAdjust="spacing">3536.10</text>
<rect x="696" y="265" width="2" height="1" fill="#fff"/>
<text transform="translate(701,269) scale(1,1.1)" x="0" y="0" fill="#fff" stroke="#fff" stroke-width="0.08" font-size="9" textLength="33" lengthAdjust="spacing">3480.00</text>
<rect x="696" y="298" width="2" height="1" fill="#fff"/>
<text transform="translate(701,302) scale(1,1.1)" x="0" y="0" fill="#fff" stroke="#fff" stroke-width="0.08" font-size="9" textLength="33" lengthAdjust="spacing">3423.90</text>
<rect x="696" y="331" width="2" height="1" fill="#fff"/>
<text transform="translate(701,335) scale(1,1.1)" x="0" y="0" fill="#fff" stroke="#fff" stroke-width="0.08" font-size="9" textLength="33" lengthAdjust="spacing">3367.80</text>
<rect x="696" y="364" width="2" height="1" fill="#fff"/>
<text transform="translate(701,368) scale(1,1.1)" x="0" y="0" fill="#fff" stroke="#fff" stroke-width="0.08" font-size="9" textLength="33" lengthAdjust="spacing">3311.70</text>
<rect x="696" y="397" width="2" height="1" fill="#fff"/>
<text transform="translate(701,401) scale(1,1.1)" x="0" y="0" fill="#fff" stroke="#fff" stroke-width="0.08" font-size="9" textLength="33" lengthAdjust="spacing">3257.25</text>
<text transform="translate(701,38.2) scale(1,1.1)" x="0" y="0" fill="#fff" stroke="#fff" stroke-width="0.08" font-size="9" textLength="33" lengthAdjust="spacing">3871.05</text>
<rect x="697" y="34" width="41" height="11" fill="#fff"/>
<text transform="translate(701,43) scale(1,1.1)" x="0" y="0" fill="#000" stroke="#000" stroke-width="0.08" font-size="9" textLength="33" lengthAdjust="spacing">3862.89</text>
<rect x="696" y="404" width="2" height="1" fill="#fff"/>
<text transform="translate(699,413) scale(1,1.1)" x="0" y="0" fill="#fff" stroke="#fff" stroke-width="0.08" font-size="9" textLength="37.6" lengthAdjust="spacing">267.7233</text>
<rect x="696" y="430" width="2" height="1" fill="#fff"/>
<text transform="translate(699,434) scale(1,1.1)" x="0" y="0" fill="#fff" stroke="#fff" stroke-width="0.08" font-size="9" textLength="14" lengthAdjust="spacing">100</text>
<rect x="696" y="446" width="2" height="1" fill="#fff"/>
<text transform="translate(699,450) scale(1,1.1)" x="0" y="0" fill="#fff" stroke="#fff" stroke-width="0.08" font-size="9" textLength="17.8" lengthAdjust="spacing">0.00</text>
<rect x="696" y="462" width="2" height="1" fill="#fff"/>
<text transform="translate(699,466) scale(1,1.1)" x="0" y="0" fill="#fff" stroke="#fff" stroke-width="0.08" font-size="9" textLength="18" lengthAdjust="spacing">-100</text>
<rect x="696" y="475" width="2" height="1" fill="#fff"/>
<text transform="translate(699,472.5) scale(1,1.1)" x="0" y="0" fill="#fff" stroke="#fff" stroke-width="0.08" font-size="9" textLength="41" lengthAdjust="spacing">-185.8945</text>
<rect x="696" y="480" width="2" height="1" fill="#fff"/>
<text transform="translate(699,489) scale(1,1.1)" x="0" y="0" fill="#fff" stroke="#fff" stroke-width="0.08" font-size="9" textLength="14.2" lengthAdjust="spacing">100</text>
<rect x="696" y="499" width="2" height="1" fill="#fff"/>
<text transform="translate(699,503) scale(1,1.1)" x="0" y="0" fill="#fff" stroke="#fff" stroke-width="0.08" font-size="9" textLength="8.8" lengthAdjust="spacing">70</text>
<rect x="696" y="525" width="2" height="1" fill="#fff"/>
<text transform="translate(699,529) scale(1,1.1)" x="0" y="0" fill="#fff" stroke="#fff" stroke-width="0.08" font-size="9" textLength="9.6" lengthAdjust="spacing">30</text>
<rect x="696" y="544" width="2" height="1" fill="#fff"/>
<text transform="translate(699,541.5) scale(1,1.1)" x="0" y="0" fill="#fff" stroke="#fff" stroke-width="0.08" font-size="9" textLength="4.8" lengthAdjust="spacing">0</text>
<rect x="696" y="549" width="2" height="1" fill="#fff"/>
<text transform="translate(699,558) scale(1,1.1)" x="0" y="0" fill="#fff" stroke="#fff" stroke-width="0.08" font-size="9" textLength="14.2" lengthAdjust="spacing">100</text>
<rect x="696" y="562" width="2" height="1" fill="#fff"/>
<text transform="translate(699,566) scale(1,1.1)" x="0" y="0" fill="#fff" stroke="#fff" stroke-width="0.08" font-size="9" textLength="8.8" lengthAdjust="spacing">80</text>
<rect x="696" y="604" width="2" height="1" fill="#fff"/>
<text transform="translate(699,608) scale(1,1.1)" x="0" y="0" fill="#fff" stroke="#fff" stroke-width="0.08" font-size="9" textLength="9.6" lengthAdjust="spacing">20</text>
<rect x="696" y="618" width="2" height="1" fill="#fff"/>
<text transform="translate(699,616) scale(1,1.1)" x="0" y="0" fill="#fff" stroke="#fff" stroke-width="0.08" font-size="9" textLength="4.8" lengthAdjust="spacing">0</text>
<rect x="696" y="623" width="2" height="1" fill="#fff"/>
<text transform="translate(699,632) scale(1,1.1)" x="0" y="0" fill="#fff" stroke="#fff" stroke-width="0.08" font-size="9" textLength="32.5" lengthAdjust="spacing">53.8902</text>
<rect x="696" y="679" width="2" height="1" fill="#fff"/>
<text transform="translate(699,677) scale(1,1.1)" x="0" y="0" fill="#fff" stroke="#fff" stroke-width="0.08" font-size="9" textLength="32.5" lengthAdjust="spacing">33.2055</text>
<rect x="696" y="684" width="2" height="1" fill="#fff"/>
<text transform="translate(699,693) scale(1,1.1)" x="0" y="0" fill="#fff" stroke="#fff" stroke-width="0.08" font-size="9" textLength="27.4" lengthAdjust="spacing">102.46</text>
<rect x="696" y="725" width="2" height="1" fill="#fff"/>
<rect x="696" y="730" width="2" height="1" fill="#fff"/>
<text transform="translate(699.2,728.5) scale(1,1.1)" x="0" y="0" fill="#fff" stroke="#fff" stroke-width="0.08" font-size="9" textLength="16.8" lengthAdjust="spacing">0.00</text>
<text transform="translate(699,726.8) scale(1,1.1)" x="0" y="0" fill="#fff" stroke="#fff" stroke-width="0.08" font-size="9" textLength="30.8" lengthAdjust="spacing">-1.1322</text>
<path d="M4 7 L11 7 L7.5 11 Z" fill="#fff"/>
<text transform="translate(16,12) scale(1,1.1)" x="0" y="0" fill="#fff" stroke="#fff" stroke-width="0.08" font-size="9" textLength="57" lengthAdjust="spacing">GOLD#,Daily</text>
<text transform="translate(80.5,12) scale(1,1.1)" x="0" y="0" fill="#fff" stroke="#fff" stroke-width="0.08" font-size="9" textLength="32" lengthAdjust="spacing">3866.71</text>
<text transform="translate(117,12) scale(1,1.1)" x="0" y="0" fill="#fff" stroke="#fff" stroke-width="0.08" font-size="9" textLength="31.5" lengthAdjust="spacing">3870.59</text>
<text transform="translate(152.5,12) scale(1,1.1)" x="0" y="0" fill="#fff" stroke="#fff" stroke-width="0.08" font-size="9" textLength="31.5" lengthAdjust="spacing">3857.63</text>
<text transform="translate(188,12) scale(1,1.1)" x="0" y="0" fill="#fff" stroke="#fff" stroke-width="0.08" font-size="9" textLength="32.5" lengthAdjust="spacing">3862.89</text>
<text transform="translate(5.5,415) scale(1,1.1)" x="0" y="0" fill="#fff" stroke="#fff" stroke-width="0.08" font-size="9" textLength="74.5" lengthAdjust="spacing">CCI(14) 128.0884</text>
<text transform="translate(5.2,491) scale(1,1.1)" x="0" y="0" fill="#fff" stroke="#fff" stroke-width="0.08" font-size="9" textLength="67" lengthAdjust="spacing">RSI(14) 80.5239</text>
<text transform="translate(5,560) scale(1,1.1)" x="0" y="0" fill="#fff" stroke="#fff" stroke-width="0.08" font-size="9" textLength="112.6" lengthAdjust="spacing">Sto(5,3,3) 84.5223 87.7107</text>
<text transform="translate(5.6,634) scale(1,1.1)" x="0" y="0" fill="#fff" stroke="#fff" stroke-width="0.08" font-size="9" textLength="70.5" lengthAdjust="spacing">ATR(14) 52.0057</text>
<text transform="translate(5.3,695) scale(1,1.1)" x="0" y="0" fill="#fff" stroke="#fff" stroke-width="0.08" font-size="9" textLength="127.5" lengthAdjust="spacing">MACD(12,26,9) 97.288 87.996</text>
<rect x="1" y="731" width="1" height="3" fill="#fff"/>
<text transform="translate(0.3,743) scale(1,1.1)" x="0" y="0" fill="#fff" stroke="#fff" stroke-width="0.08" font-size="9" textLength="41.7" lengthAdjust="spacing">1 Jul 2025</text>
<rect x="65" y="731" width="1" height="3" fill="#fff"/>
<text transform="translate(64.5,743) scale(1,1.1)" x="0" y="0" fill="#fff" stroke="#fff" stroke-width="0.08" font-size="9" textLength="46" lengthAdjust="spacing">11 Jul 2025</text>
<rect x="129" y="731" width="1" height="3" fill="#fff"/>
<text transform="translate(128.7,743) scale(1,1.1)" x="0" y="0" fill="#fff" stroke="#fff" stroke-width="0.08" font-size="9" textLength="46.3" lengthAdjust="spacing">23 Jul 2025</text>
<rect x="193" y="731" width="1" height="3" fill="#fff"/>
<text transform="translate(192,743) scale(1,1.1)" x="0" y="0" fill="#fff" stroke="#fff" stroke-width="0.08" font-size="9" textLength="48" lengthAdjust="spacing">4 Aug 2025</text>
<rect x="257" y="731" width="1" height="3" fill="#fff"/>
<text transform="translate(256.4,743) scale(1,1.1)" x="0" y="0" fill="#fff" stroke="#fff" stroke-width="0.08" font-size="9" textLength="52.4" lengthAdjust="spacing">14 Aug 2025</text>
<rect x="321" y="731" width="1" height="3" fill="#fff"/>
<text transform="translate(320.2,743) scale(1,1.1)" x="0" y="0" fill="#fff" stroke="#fff" stroke-width="0.08" font-size="9" textLength="52.4" lengthAdjust="spacing">26 Aug 2025</text>
<rect x="385" y="731" width="1" height="3" fill="#fff"/>
<text transform="translate(384.2,743) scale(1,1.1)" x="0" y="0" fill="#fff" stroke="#fff" stroke-width="0.08" font-size="9" textLength="47" lengthAdjust="spacing">5 Sep 2025</text>
<rect x="449" y="731" width="1" height="3" fill="#fff"/>
<text transform="translate(448.5,743) scale(1,1.1)" x="0" y="0" fill="#fff" stroke="#fff" stroke-width="0.08" font-size="9" textLength="51.8" lengthAdjust="spacing">17 Sep 2025</text>
<rect x="513" y="731" width="1" height="3" fill="#fff"/>
<text transform="translate(512.5,743) scale(1,1.1)" x="0" y="0" fill="#fff" stroke="#fff" stroke-width="0.08" font-size="9" textLength="51.8" lengthAdjust="spacing">29 Sep 2025</text>
</svg></body></html>
